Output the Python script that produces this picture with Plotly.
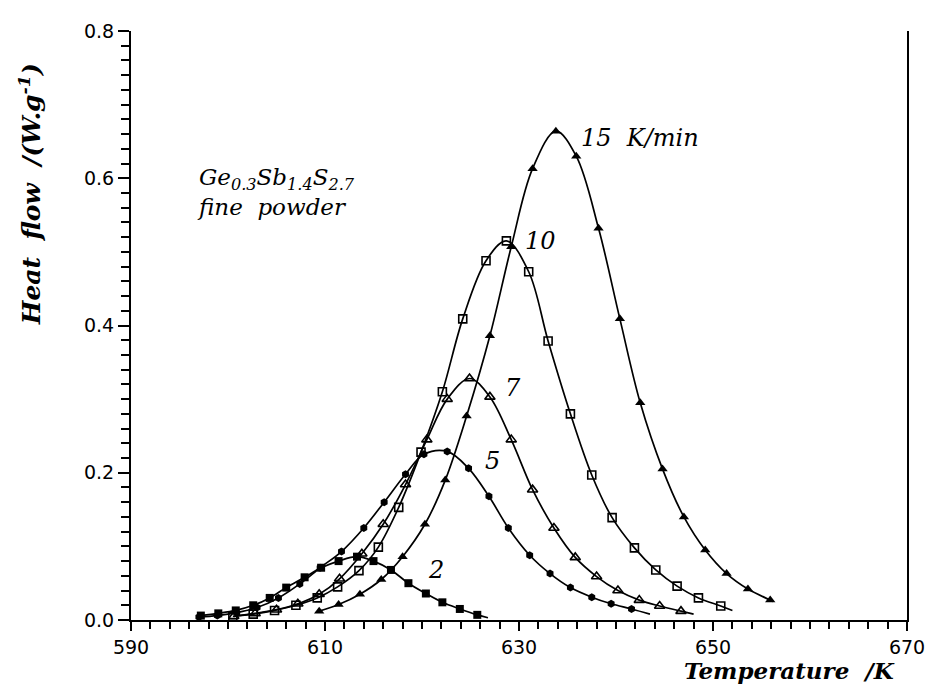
import plotly.graph_objects as go

# ---- data ----
t_2 = [597.2, 599.0, 600.8, 602.6, 604.3, 606.0, 607.9, 609.6, 611.4, 613.3, 615.0, 616.8, 618.6, 620.4, 622.1, 623.9, 625.7]
hf_2 = [0.006, 0.009, 0.013, 0.020, 0.030, 0.044, 0.058, 0.071, 0.080, 0.086, 0.080, 0.068, 0.050, 0.036, 0.024, 0.015, 0.007]

t_5 = [597.0, 598.9, 600.9, 603.0, 605.2, 607.4, 609.5, 611.7, 614.0, 616.1, 618.3, 620.2, 622.6, 624.8, 626.9, 628.9, 631.1, 633.2, 635.3, 637.5, 639.5, 641.6]
hf_5 = [0.004, 0.006, 0.010, 0.017, 0.030, 0.049, 0.071, 0.093, 0.125, 0.160, 0.198, 0.225, 0.229, 0.206, 0.168, 0.125, 0.088, 0.063, 0.044, 0.031, 0.022, 0.015]

t_7 = [600.6, 602.8, 605.0, 607.2, 609.4, 611.5, 613.8, 616.0, 618.3, 620.5, 622.6, 624.9, 627.0, 629.2, 631.4, 633.6, 635.8, 638.0, 640.2, 642.4, 644.5, 646.7]
hf_7 = [0.005, 0.009, 0.014, 0.022, 0.035, 0.056, 0.090, 0.130, 0.184, 0.245, 0.300, 0.328, 0.303, 0.245, 0.177, 0.125, 0.085, 0.059, 0.040, 0.027, 0.019, 0.012]

t_10 = [600.5, 602.6, 604.8, 607.0, 609.2, 611.3, 613.5, 615.5, 617.6, 619.9, 622.1, 624.2, 626.6, 628.7, 631.0, 633.0, 635.3, 637.5, 639.6, 641.9, 644.1, 646.3, 648.5, 650.8]
hf_10 = [0.005, 0.008, 0.013, 0.020, 0.030, 0.045, 0.067, 0.099, 0.153, 0.228, 0.310, 0.409, 0.488, 0.515, 0.473, 0.379, 0.280, 0.197, 0.139, 0.098, 0.068, 0.046, 0.030, 0.019]

t_15 = [609.4, 611.4, 613.6, 615.8, 618.0, 620.3, 622.4, 624.6, 627.0, 629.2, 631.4, 633.8, 635.9, 638.2, 640.4, 642.5, 644.8, 647.0, 649.2, 651.4, 653.6, 655.9]
hf_15 = [0.012, 0.021, 0.035, 0.055, 0.086, 0.130, 0.190, 0.277, 0.386, 0.507, 0.613, 0.664, 0.630, 0.532, 0.409, 0.295, 0.205, 0.140, 0.095, 0.063, 0.042, 0.027]

# where each fitted curve ends beyond its last marker (2, 5, 7, 10, 15)
end_t = [626.8, 643.5, 648.0, 652.0, 656.2]
end_hf = [0.003, 0.008, 0.008, 0.013, 0.025]

rate_labels = ["2", "5", "7", "10", "15  K/min"]
label_t = [620.4, 626.3, 628.3, 630.4, 636.2]
label_hf = [0.068, 0.216, 0.315, 0.515, 0.655]

x_ticks = [590, 610, 630, 650, 670]
y_ticks = [0.0, 0.2, 0.4, 0.6, 0.8]

# ---- figure ----
series = [
    (t_2, hf_2, dict(symbol="square", size=8, color="black")),
    (t_5, hf_5, dict(symbol="hexagon", size=8, color="black")),
    (t_7, hf_7, dict(symbol="triangle-up-open", size=9, color="black", line=dict(width=1.6, color="black"))),
    (t_10, hf_10, dict(symbol="square-open", size=8, color="black", line=dict(width=1.6, color="black"))),
    (t_15, hf_15, dict(symbol="triangle-up", size=9, color="black")),
]

fig = go.Figure()
for (t, h, mk), et, eh in zip(series, end_t, end_hf):
    fig.add_trace(go.Scatter(
        x=list(t) + [et], y=list(h) + [eh], mode="lines",
        line=dict(color="black", width=1.7, shape="spline", smoothing=1.0),
        showlegend=False, hoverinfo="skip",
    ))
    fig.add_trace(go.Scatter(
        x=t, y=h, mode="markers", marker=mk, showlegend=False,
    ))

serif = "DejaVu Serif"
for txt, tx, ty in zip(rate_labels, label_t, label_hf):
    fig.add_annotation(x=tx, y=ty, xref="x", yref="y", text=f"<i>{txt}</i>",
                       showarrow=False, xanchor="left", yanchor="middle",
                       font=dict(family=serif, size=24, color="black"))

fig.add_annotation(x=596.6, y=0.582, xref="x", yref="y",
                   text="<i>Ge<sub>0.3</sub>Sb<sub>1.4</sub>S<sub>2.7</sub><br>fine  powder</i>",
                   showarrow=False, xanchor="left", yanchor="middle", align="left",
                   font=dict(family=serif, size=23, color="black"))

# page is offset by the default 8px body margin; geometry below is in figure pixels
W, H = 929, 681
L, R, T, B = 123, 19, 15, 69
pw, ph = W - L - R, H - T - B

fig.add_annotation(x=(21 - L) / pw, y=(H - B - 180) / ph, xref="paper", yref="paper",
                   text="<b><i>Heat  flow  /(W.g<sup>-1</sup>)</i></b>", textangle=-90,
                   showarrow=False, xanchor="center", yanchor="middle",
                   font=dict(family=serif, size=25, color="black"))
fig.add_annotation(x=(900 - L) / pw, y=(H - B - 663) / ph, xref="paper", yref="paper",
                   text="<b><i>Temperature  /K</i></b>",
                   showarrow=False, xanchor="right", yanchor="middle",
                   font=dict(family=serif, size=23, color="black"))

fig.update_layout(
    width=W, height=H,
    margin=dict(l=L, r=R, t=T, b=B),
    plot_bgcolor="white", paper_bgcolor="white",
    showlegend=False,
)
fig.update_xaxes(
    range=[590, 670], tickvals=x_ticks, ticktext=[str(v) for v in x_ticks],
    ticks="outside", ticklen=9, tickwidth=1.5, tickcolor="black",
    showline=True, linewidth=2, linecolor="black",
    showgrid=False, zeroline=False,
    minor=dict(dtick=2, tick0=590, ticks="outside", ticklen=7, tickwidth=1.5,
               tickcolor="black", showgrid=False),
    tickfont=dict(family="DejaVu Sans", size=19, color="black"),
)
fig.update_yaxes(
    range=[0, 0.8], tickvals=y_ticks, ticktext=[f"{v:.1f}" for v in y_ticks],
    ticks="outside", ticklen=11, tickwidth=1.5, tickcolor="black",
    showline=True, linewidth=2, linecolor="black", mirror=True,
    showgrid=False, zeroline=False,
    minor=dict(dtick=0.02, tick0=0, ticks="outside", ticklen=8, tickwidth=1.5,
               tickcolor="black", showgrid=False),
    tickfont=dict(family="DejaVu Sans", size=19, color="black"),
)

fig.write_html("out.html")
